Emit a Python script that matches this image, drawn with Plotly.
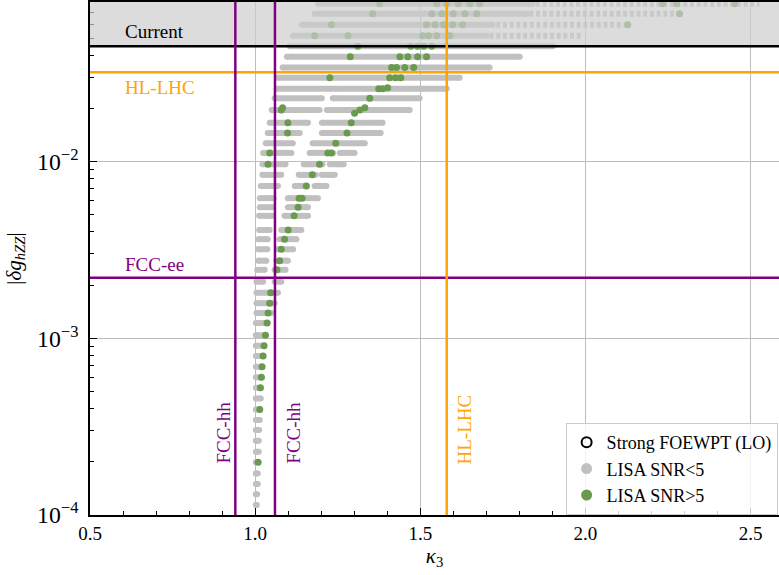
import math
import plotly.graph_objects as go

# Scan points below the LISA threshold: one |δg_hZZ| level per row,
# each row holding the κ3 intervals it covers.
scan_dg = [
    1.14e-4, 1.31e-4, 1.50e-4, 1.72e-4, 1.99e-4, 2.28e-4, 2.63e-4, 3.03e-4,
    3.45e-4, 3.96e-4, 4.57e-4, 5.25e-4, 6.01e-4, 6.90e-4, 7.94e-4, 9.08e-4,
    1.04e-3, 1.22e-3, 1.39e-3, 1.58e-3, 1.81e-3, 2.09e-3, 2.44e-3, 2.75e-3,
    3.19e-3, 3.64e-3, 4.10e-3, 4.93e-3, 5.52e-3, 6.21e-3, 7.28e-3, 8.41e-3,
    9.66e-3, 1.12e-2, 1.27e-2, 1.45e-2, 1.66e-2, 1.96e-2, 2.28e-2, 2.58e-2,
    2.98e-2, 3.41e-2, 3.92e-2, 4.49e-2, 5.15e-2, 5.94e-2, 6.86e-2, 7.81e-2,
]
scan_k = [
    [(1.002, 1.005)], [(1.002, 1.006)], [(1.002, 1.008)], [(1.002, 1.008)],
    [(1.002, 1.009)], [(1.002, 1.011)], [(1.002, 1.011)], [(1.002, 1.012)],
    [(1.002, 1.014)], [(1.002, 1.014)], [(1.002, 1.017)], [(1.002, 1.016)],
    [(1.002, 1.017)], [(1.002, 1.019)], [(1.002, 1.020)], [(1.002, 1.027)],
    [(1.002, 1.032)], [(1.002, 1.038)], [(1.004, 1.049)], [(1.004, 1.059)],
    [(1.004, 1.069)],
    [(1.004, 1.024), (1.059, 1.079)],
    [(1.006, 1.029), (1.059, 1.092)],
    [(1.009, 1.034), (1.064, 1.099)],
    [(1.009, 1.037), (1.069, 1.115)],
    [(1.009, 1.038), (1.074, 1.125)],
    [(1.012, 1.044), (1.079, 1.140)],
    [(1.012, 1.052), (1.089, 1.160)],
    [(1.014, 1.054), (1.099, 1.160)],
    [(1.014, 1.056), (1.099, 1.190)],
    [(1.017, 1.069), (1.120, 1.155), (1.180, 1.216)],
    [(1.022, 1.079), (1.132, 1.183), (1.201, 1.241)],
    [(1.022, 1.092), (1.147, 1.204), (1.226, 1.268)],
    [(1.024, 1.110), (1.165, 1.236), (1.256, 1.301)],
    [(1.032, 1.114), (1.174, 1.332)],
    [(1.038, 1.135), (1.202, 1.380)],
    [(1.044, 1.160), (1.202, 1.386)],
    [(1.050, 1.195), (1.217, 1.468)],
    [(1.059, 1.202), (1.235, 1.498)],
    [(1.065, 1.247), (1.256, 1.580)],
    [(1.068, 1.619)],
    [(1.083, 1.710)],
    [(1.096, 1.801)],
    [(1.105, 1.901)],
    [(1.114, 1.701)],
    [(1.141, 1.719)],
    [(1.180, 1.822)],
    [(1.190, 1.840)],
]

# Sparser high-κ3 ends of the top rows
tail_dg = [5.15e-2, 5.94e-2, 6.86e-2, 7.81e-2]
tail_k = [(1.71, 1.992), (1.73, 2.128), (1.83, 2.285), (1.85, 2.527)]

# Points with LISA SNR > 5
green_k = [
    1.009, 1.014, 1.016, 1.019, 1.021, 1.024, 1.027, 1.031, 1.036, 1.039, 1.044, 1.047,
    1.066, 1.074, 1.079, 1.089, 1.100, 1.118, 1.130, 1.133, 1.142, 1.155, 1.173, 1.195,
    1.220, 1.231, 1.244, 1.278, 1.291, 1.301, 1.317, 1.332, 1.347,
    1.374, 1.386, 1.401, 1.407, 1.425, 1.441,
    1.413, 1.428, 1.453, 1.480,
    1.438, 1.462, 1.492, 1.519,
    1.471, 1.492, 1.510, 1.535,
    1.507, 1.525, 1.550, 1.589,
    1.519, 1.545, 1.570, 1.598, 1.628,
    1.535, 1.565, 1.600, 1.635, 1.671,
    1.550, 1.580, 1.615, 1.650, 1.680,
    1.226, 1.288, 1.311, 1.180, 1.281, 1.231, 1.356, 1.377,
    2.128, 2.285, 2.234, 2.276, 2.452,
    1.044, 1.039, 1.079, 1.083, 1.099, 1.098,
]
green_dg = [
    1.99e-4, 3.96e-4, 5.25e-4, 6.01e-4, 6.90e-4, 7.94e-4, 9.08e-4, 1.04e-3, 1.22e-3, 1.39e-3, 1.58e-3, 1.81e-3,
    2.44e-3, 2.75e-3, 3.19e-3, 3.64e-3, 4.10e-3, 4.93e-3, 5.52e-3, 6.21e-3, 6.21e-3, 7.28e-3, 8.41e-3, 9.66e-3,
    1.12e-2, 1.12e-2, 1.27e-2, 1.45e-2, 1.66e-2, 1.88e-2, 1.96e-2, 2.02e-2, 2.28e-2,
    2.58e-2, 2.58e-2, 2.62e-2, 2.98e-2, 2.98e-2, 2.98e-2,
    3.41e-2, 3.41e-2, 3.41e-2, 3.41e-2,
    3.92e-2, 3.92e-2, 3.92e-2, 3.92e-2,
    4.49e-2, 4.49e-2, 4.49e-2, 4.49e-2,
    5.15e-2, 5.15e-2, 5.15e-2, 5.15e-2,
    5.94e-2, 5.94e-2, 5.94e-2, 5.94e-2, 5.94e-2,
    6.86e-2, 6.86e-2, 6.86e-2, 6.86e-2, 6.86e-2,
    7.81e-2, 7.81e-2, 7.81e-2, 7.81e-2, 7.81e-2,
    2.98e-2, 3.92e-2, 4.49e-2, 5.15e-2, 5.15e-2, 5.94e-2, 6.86e-2, 7.81e-2,
    5.94e-2, 6.86e-2, 7.81e-2, 7.81e-2, 7.81e-2,
    1.12e-2, 9.66e-3, 1.96e-2, 2.02e-2, 1.66e-2, 1.45e-2,
]

# Collider sensitivities
current_dg = 0.045
hl_lhc_dg = 0.032
fcc_ee_dg = 0.0022
fcc_hh_k = [0.94, 1.06]
hl_lhc_k = 1.58

GRAY = "#c0c0c0"
GREEN = "#6a9a4e"
PURPLE = "#800080"
ORANGE = "#ffa500"
FONT = "Liberation Serif"


def segments_xy(levels, rows):
    xs, ys = [], []
    for dg, row in zip(levels, rows):
        for lo, hi in row:
            xs += [lo, hi, None]
            ys += [dg, dg, None]
    return xs, ys


band_x, band_y = segments_xy(scan_dg, scan_k)
tail_x, tail_y = segments_xy(tail_dg, [[seg] for seg in tail_k])

fig = go.Figure()
fig.add_trace(go.Scatter(
    x=band_x, y=band_y, mode="lines+markers",
    line=dict(color=GRAY, width=6), marker=dict(color=GRAY, size=6),
    showlegend=False, hoverinfo="skip"))
fig.add_trace(go.Scatter(
    x=tail_x, y=tail_y, mode="lines",
    line=dict(color=GRAY, width=6, dash="4px,2.7px"),
    showlegend=False, hoverinfo="skip"))
fig.add_trace(go.Scatter(
    x=green_k, y=green_dg, mode="markers",
    marker=dict(color=GREEN, size=7), showlegend=False))

# legend entries
fig.add_trace(go.Scatter(
    x=[None], y=[None], mode="markers", name="Strong FOEWPT (LO)",
    marker=dict(symbol="circle-open", color="black", size=10, line=dict(width=2))))
fig.add_trace(go.Scatter(
    x=[None], y=[None], mode="markers", name="LISA SNR<5",
    marker=dict(color=GRAY, size=11)))
fig.add_trace(go.Scatter(
    x=[None], y=[None], mode="markers", name="LISA SNR>5",
    marker=dict(color=GREEN, size=11)))

# excluded region and bounds
fig.add_hrect(y0=current_dg, y1=1.0, fillcolor="rgba(205,205,205,0.7)",
              line_width=0, layer="above", opacity=1)
fig.add_hline(y=current_dg, line=dict(color="black", width=2.5), layer="above", opacity=1)
fig.add_hline(y=hl_lhc_dg, line=dict(color=ORANGE, width=2.5), layer="above", opacity=1)
fig.add_hline(y=fcc_ee_dg, line=dict(color=PURPLE, width=2.5), layer="above", opacity=1)
for k in fcc_hh_k:
    fig.add_vline(x=k, line=dict(color=PURPLE, width=2.5), layer="above", opacity=1)
fig.add_vline(x=hl_lhc_k, line=dict(color=ORANGE, width=2.5), layer="above", opacity=1)

labels = [
    ("Current", 0.60, 0.0542, "black", 0, "left"),
    ("HL-LHC", 0.60, 0.0263, ORANGE, 0, "left"),
    ("FCC-ee", 0.60, 0.0026, PURPLE, 0, "left"),
    ("FCC-hh", 0.903, 2.93e-4, PURPLE, -90, "center"),
    ("FCC-hh", 1.115, 2.93e-4, PURPLE, -90, "center"),
    ("HL-LHC", 1.634, 3.03e-4, ORANGE, -90, "center"),
]
for text, x, y, color, angle, anchor in labels:
    fig.add_annotation(x=x, y=math.log10(y), text=text, showarrow=False,
                       xanchor=anchor, yanchor="middle", textangle=angle,
                       font=dict(family=FONT, size=19, color=color))

axis_common = dict(
    showline=True, linecolor="black", linewidth=1.5,
    ticks="inside", ticklen=7, tickwidth=1.2, tickcolor="black",
    showgrid=True, gridcolor="#bdbdbd", gridwidth=1.3,
    zeroline=False, tickfont=dict(family=FONT, size=19, color="black"),
)
fig.update_xaxes(
    range=[0.5, 2.586], tick0=0.5, dtick=0.5, tickformat=".1f", mirror=True,
    minor=dict(ticks="inside", ticklen=4, dtick=0.1, tick0=0.5, tickcolor="black",
               showgrid=False),
    title=dict(text="<i>κ</i><sub>3</sub>", font=dict(family=FONT, size=21), standoff=4),
    **axis_common)
fig.update_yaxes(
    type="log", range=[-4, math.log10(0.08)], dtick=1, exponentformat="power",
    ticklabelstandoff=6,
    minor=dict(ticks="inside", ticklen=4, dtick="D1", tickcolor="black", showgrid=False),
    title=dict(text="|<i>δg</i><sub><i>hZZ</i></sub>|", font=dict(family=FONT, size=21),
               standoff=10),
    **axis_common)

fig.update_layout(
    width=779, height=575, template="simple_white",
    margin=dict(l=90, r=0, t=2, b=60),
    plot_bgcolor="white", paper_bgcolor="white",
    font=dict(family=FONT, size=19, color="black"),
    legend=dict(x=0.998, xanchor="right", y=0.0, yanchor="bottom",
                bgcolor="rgba(255,255,255,0.8)", bordercolor="#cccccc", borderwidth=1,
                font=dict(family=FONT, size=18), traceorder="normal"),
)

fig.write_html("out.html")
